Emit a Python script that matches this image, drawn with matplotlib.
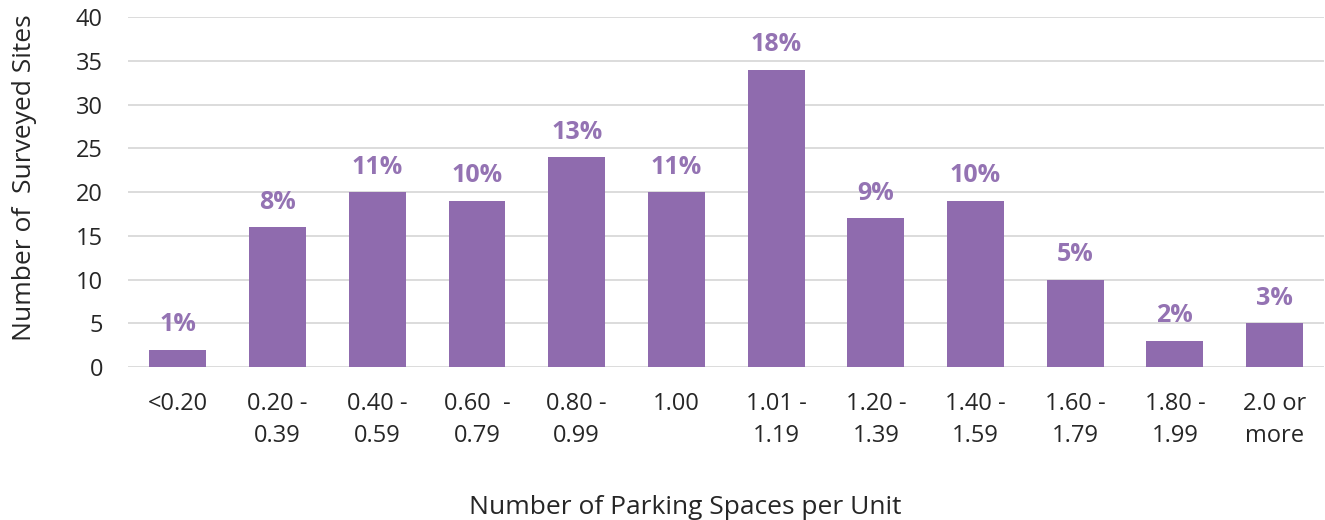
import matplotlib
matplotlib.use('Agg')
from matplotlib import pyplot as plt

categories = ['<0.20', '0.20 -\n0.39', '0.40 -\n0.59', '0.60  -\n0.79', '0.80 -\n0.99', '1.00',
              '1.01 -\n1.19', '1.20 -\n1.39', '1.40 -\n1.59', '1.60 -\n1.79', '1.80 -\n1.99', '2.0 or\nmore']
sites = [2, 16, 20, 19, 24, 20, 34, 17, 19, 10, 3, 5]
percents = ['1%', '8%', '11%', '10%', '13%', '11%', '18%', '9%', '10%', '5%', '2%', '3%']

plt.rcParams['font.family'] = ['Open Sans', 'DejaVu Sans']

bar_color = '#8F6BAE'
label_color = '#9473B3'
text_color = '#262626'

fig = plt.figure(figsize=(13.25, 5.2), dpi=100)
ax = fig.add_axes([0.0966, 0.294, 0.903, 0.673])

x = range(len(categories))
bars = ax.bar(x, sites, width=0.57, color=bar_color, zorder=3)

for b, p in zip(bars, percents):
    ax.annotate(p, (b.get_x() + b.get_width() / 2, b.get_height()),
                xytext=(0, 9), textcoords='offset points', ha='center', va='bottom',
                fontsize=18, fontweight='bold', color=label_color)

ax.set_ylim(0, 40)
ax.set_xlim(-0.5, len(categories) - 0.5)
ax.set_yticks(range(0, 41, 5))
ax.set_xticks(list(x))
ax.set_xticklabels(categories, fontsize=17, color=text_color, linespacing=1.45)
ax.tick_params(axis='y', labelsize=17, labelcolor=text_color, length=0, pad=18)
ax.tick_params(axis='x', length=0, pad=18)
ax.grid(axis='y', color='#D9D9D9', lw=1.3, zorder=0)
for s in ax.spines.values():
    s.set_visible(False)

ax.set_ylabel('Number of  Surveyed Sites', fontsize=19, color=text_color, labelpad=28)
ax.yaxis.label.set_y(0.54)
ax.set_xlabel('Number of Parking Spaces per Unit', fontsize=19, color=text_color, labelpad=34)
ax.xaxis.label.set_x(0.466)

plt.savefig('out.png', dpi=100)
